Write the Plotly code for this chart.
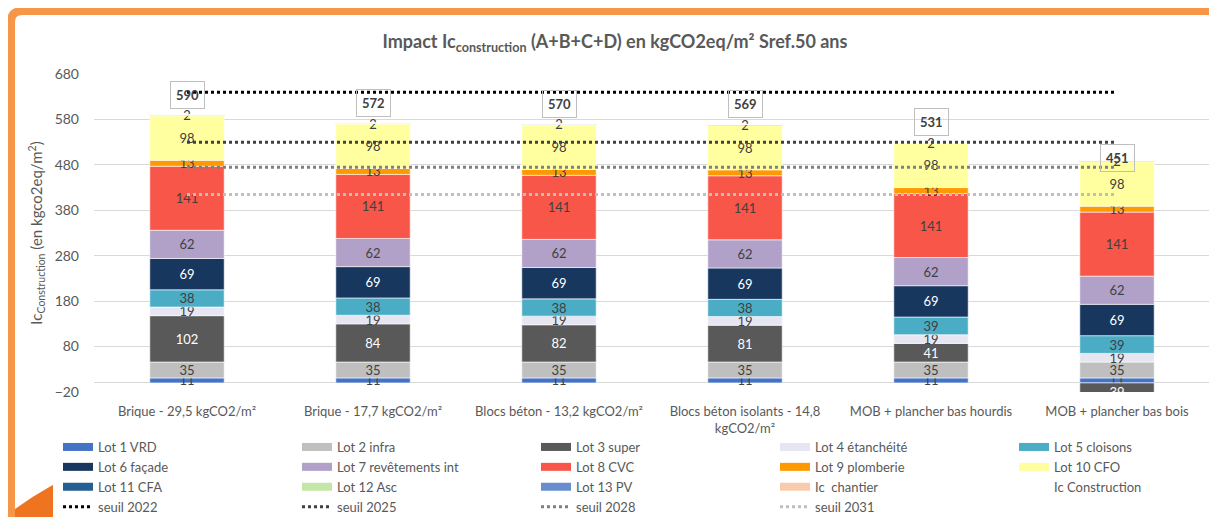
import plotly.graph_objects as go

# ---------------- data ----------------
categories = [
    "Brique - 29,5 kgCO2/m²",
    "Brique - 17,7 kgCO2/m²",
    "Blocs béton - 13,2 kgCO2/m²",
    "Blocs béton isolants - 14,8<br>kgCO2/m²",
    "MOB + plancher bas hourdis",
    "MOB + plancher bas bois",
]

lot1_vrd = [11, 11, 11, 11, 11, 11]
lot2_infra = [35, 35, 35, 35, 35, 35]
lot3_super = [102, 84, 82, 81, 41, -39]
lot4_etancheite = [19, 19, 19, 19, 19, 19]
lot5_cloisons = [38, 38, 38, 38, 39, 39]
lot6_facade = [69, 69, 69, 69, 69, 69]
lot7_revetements = [62, 62, 62, 62, 62, 62]
lot8_cvc = [141, 141, 141, 141, 141, 141]
lot9_plomberie = [13, 13, 13, 13, 13, 13]
lot10_cfo = [98, 98, 98, 98, 98, 98]
lot11_cfa = [2, 2, 2, 2, 2, 2]
lot12_asc = [0, 0, 0, 0, 0, 0]
lot13_pv = [0, 0, 0, 0, 0, 0]
ic_chantier = [0, 0, 0, 0, 0, 0]

ic_construction = [590, 572, 570, 569, 531, 451]

seuil_names = ["seuil 2022", "seuil 2025", "seuil 2028", "seuil 2031"]
seuil_values = [640, 530, 475, 415]

y_ticks = [-20, 80, 180, 280, 380, 480, 580, 680]

# ---------------- styles ----------------
FONT = "Lato"
GREY_TXT = "#595959"
DARK_TXT = "#404040"

series = [
    ("Lot 1 VRD", lot1_vrd, "#4472C4", DARK_TXT),
    ("Lot 2 infra", lot2_infra, "#BFBFBF", DARK_TXT),
    ("Lot 3 super", lot3_super, "#595959", "white"),
    ("Lot 4 étanchéité", lot4_etancheite, "#E6E6F2", DARK_TXT),
    ("Lot 5 cloisons", lot5_cloisons, "#4BACC6", DARK_TXT),
    ("Lot 6 façade", lot6_facade, "#17375E", "white"),
    ("Lot 7 revêtements int", lot7_revetements, "#B1A0C7", DARK_TXT),
    ("Lot 8 CVC", lot8_cvc, "#F75648", DARK_TXT),
    ("Lot 9 plomberie", lot9_plomberie, "#FF9900", DARK_TXT),
    ("Lot 10 CFO", lot10_cfo, "#FFFF9F", DARK_TXT),
    ("Lot 11 CFA", lot11_cfa, "#255E91", DARK_TXT),
    ("Lot 12 Asc", lot12_asc, "#C4E6A6", DARK_TXT),
    ("Lot 13 PV", lot13_pv, "#698ED0", DARK_TXT),
    ("Ic  chantier", ic_chantier, "#F8CBAD", DARK_TXT),
]
seuil_colors = ["#000000", "#404040", "#808080", "#BFBFBF"]

fig = go.Figure()

# stacked bars (legend entries drawn via swatch traces below)
for name, vals, color, tcolor in series:
    fig.add_trace(go.Bar(
        x=categories, y=vals, name=name, showlegend=False, legendgroup=name,
        marker=dict(color=color, line=dict(color="white", width=0.6)),
        text=[str(abs(v)) if v != 0 else "" for v in vals],
        textposition="inside", insidetextanchor="middle", textangle=0,
        constraintext="none",
        textfont=dict(family=FONT, size=13, color=tcolor),
        hoverinfo="skip",
    ))

# legend swatches for the bar series
for name, vals, color, tcolor in series:
    fig.add_trace(go.Scatter(
        x=[None], y=[None], mode="lines", name=name, legendgroup=name,
        line=dict(color=color, width=8), hoverinfo="skip",
    ))

# Ic Construction (totals) - invisible markers, labelled via annotations
fig.add_trace(go.Scatter(
    x=categories, y=ic_construction, mode="markers", name="Ic Construction",
    marker=dict(size=1, color="rgba(0,0,0,0)", line=dict(width=0)),
    hoverinfo="skip",
))

# thresholds
for name, val, color in zip(seuil_names, seuil_values, seuil_colors):
    fig.add_trace(go.Scatter(
        x=categories, y=[val] * len(categories), mode="lines", name=name,
        line=dict(color=color, width=3, dash="dot"), hoverinfo="skip",
    ))

# total labels
for cat, tot in zip(categories, ic_construction):
    fig.add_annotation(
        x=cat, y=tot, text=f"<b>{tot}</b>", showarrow=False, yshift=20,
        bordercolor="#BFBFBF", borderwidth=1, borderpad=5,
        font=dict(family=FONT, size=13, color=DARK_TXT),
    )

# ---------------- layout ----------------
# the page body has an 8px margin: the figure is sized/offset to fit the window
OFF = 8
W, H = 1217 - OFF, 517 - OFF
L, T = 94 - OFF, 74 - OFF
R = W - (1210 - OFF)
B = H - (392 - OFF)
pw, ph = W - L - R, H - T - B


def px(xp):
    """page pixel x -> paper coordinate"""
    return (xp - OFF - L) / pw


def py(yp):
    """page pixel y -> paper coordinate"""
    return (H - B - (yp - OFF)) / ph


# orange frame + corner decoration
frame_path = (
    f"M {px(11)},{py(540)} L {px(11)},{py(22)} "
    f"Q {px(11)},{py(11)} {px(22)},{py(11)} L {px(1240)},{py(11)}"
)
flame_path = (
    f"M {px(15)},{py(520)} L {px(15)},{py(509)} "
    f"Q {px(33)},{py(496)} {px(51)},{py(486)} L {px(53)},{py(485)} "
    f"L {px(53)},{py(520)} Z"
)

fig.update_layout(
    width=W, height=H,
    margin=dict(l=L, r=R, t=T, b=B, autoexpand=False),
    paper_bgcolor="white", plot_bgcolor="white",
    barmode="relative", bargap=0.6,
    font=dict(family=FONT, color=GREY_TXT),
    uniformtext=dict(minsize=13, mode="show"),
    title=dict(
        text="Impact Ic<sub>construction</sub> (A+B+C+D) en kgCO2eq/m² Sref.50 ans",
        x=(615 - OFF) / W, xref="container", xanchor="center",
        y=1 - (42 - OFF) / H, yref="container", yanchor="middle",
        font=dict(family=FONT, size=18, color=GREY_TXT, weight="bold"),
    ),
    xaxis=dict(
        showgrid=False, showline=False, ticks="",
        tickfont=dict(family=FONT, size=13, color=GREY_TXT),
        ticklabelstandoff=10,
    ),
    yaxis=dict(
        range=[y_ticks[0], y_ticks[-1]], tickvals=y_ticks,
        showgrid=True, gridcolor="#D9D9D9", gridwidth=1,
        zeroline=True, zerolinecolor="#D9D9D9", zerolinewidth=1,
        showline=False, ticks="",
        tickfont=dict(family=FONT, size=14, color=GREY_TXT),
        ticklabelstandoff=14,
        title=dict(
            text="Ic<sub>Construction</sub> (en kgco2eq/m<sup>2</sup>)",
            font=dict(family=FONT, size=15, color=GREY_TXT),
            standoff=8,
        ),
    ),
    legend=dict(
        orientation="h", traceorder="normal",
        x=px(58), xanchor="left", y=py(432), yanchor="top",
        entrywidth=194, entrywidthmode="pixels",
        font=dict(family=FONT, size=13, color=GREY_TXT),
        bgcolor="rgba(0,0,0,0)", borderwidth=0,
    ),
    shapes=[
        dict(type="path", path=frame_path, xref="paper", yref="paper",
             line=dict(color="#F79646", width=8), layer="above"),
        dict(type="path", path=flame_path, xref="paper", yref="paper",
             line=dict(width=0), fillcolor="#EF7420", layer="above"),
    ],
)

fig.write_html("out.html")
